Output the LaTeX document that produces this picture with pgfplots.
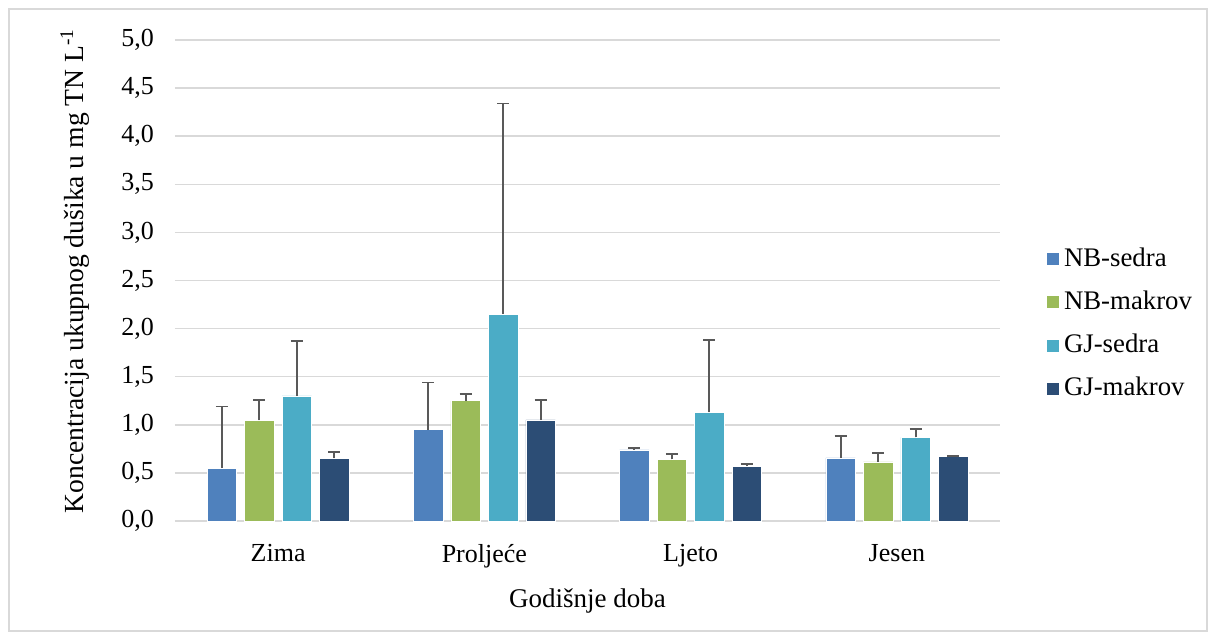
\documentclass[border=0pt]{standalone}
\usepackage{fontspec}
\setmainfont{Liberation Serif}
\usepackage{pgfplots}
\pgfplotsset{compat=1.18}
\definecolor{cNBs}{HTML}{4F81BD}
\definecolor{cNBm}{HTML}{9BBB59}
\definecolor{cGJs}{HTML}{4BACC6}
\definecolor{cGJm}{HTML}{2C4D75}
\definecolor{gridc}{HTML}{D9D9D9}
\definecolor{errc}{HTML}{595959}
\begin{document}
\fontsize{13}{15.6}\selectfont
\begin{tikzpicture}
\begin{axis}[
  scale only axis,
  width=412.5pt, height=240.5pt,
  xmin=-0.5, xmax=3.5, ymin=0, ymax=5,
  ytick distance=0.5,
  xtick={0,1,2,3},
  xticklabels={Zima,Proljeće,Ljeto,Jesen},
  ymajorgrids, grid style={gridc, line width=0.75pt},
  axis lines*=left,
  y axis line style={draw=none},
  x axis line style={gridc, line width=0.75pt},
  tick style={draw=none},
  font=\fontsize{13}{15.6}\selectfont,
  ticklabel style={font=\fontsize{13}{15.6}\selectfont},
  /pgf/number format/.cd, fixed, fixed zerofill, precision=1, use comma, assume math mode=true,
  /pgfplots/.cd,
  yticklabel style={xshift=-6pt},
  xticklabel style={yshift=-3pt},
  ylabel={Koncentracija ukupnog dušika u mg TN L\textsuperscript{-1}},
  ylabel style={at={(axis description cs:-0.1212,0.52)}, anchor=center, font=\fontsize{13.8}{16}\selectfont},
  xlabel={Godišnje doba},
  xlabel style={at={(axis description cs:0.5,0)}, anchor=center, yshift=-40pt, font=\fontsize{13.5}{16}\selectfont},
  ybar, bar width=14.75pt,
  legend style={at={(rel axis cs:1.0485,0.41)}, anchor=west, draw=none, fill=none,
    row sep=6.3pt, font=\fontsize{13.4}{15.6}\selectfont,
    /tikz/every even column/.append style={column sep=2pt}},
  legend cell align=left,
  legend image code/.code={\fill[#1] (0pt,-3.25pt) rectangle (6.5pt,3.25pt);},
  error bars/y dir=plus, error bars/y explicit,
  error bars/error bar style={errc, line width=0.9pt},
  error bars/error mark options={errc, line width=0.9pt, mark size=3pt, rotate=90},
  clip=false,
]
\addplot[fill=cNBs, draw=white, line width=0.3pt, bar shift=-28.125pt] coordinates {
 (0,0.55) +- (0,0.64) (1,0.95) +- (0,0.49) (2,0.74) +- (0,0.02) (3,0.655) +- (0,0.225)};
\addlegendentry{NB-sedra}
\addplot[fill=cNBm, draw=white, line width=0.3pt, bar shift=-9.375pt] coordinates {
 (0,1.045) +- (0,0.215) (1,1.25) +- (0,0.07) (2,0.64) +- (0,0.06) (3,0.615) +- (0,0.095)};
\addlegendentry{NB-makrov}
\addplot[fill=cGJs, draw=white, line width=0.3pt, bar shift=9.375pt] coordinates {
 (0,1.30) +- (0,0.57) (1,2.15) +- (0,2.19) (2,1.13) +- (0,0.755) (3,0.87) +- (0,0.09)};
\addlegendentry{GJ-sedra}
\addplot[fill=cGJm, draw=white, line width=0.3pt, bar shift=28.125pt] coordinates {
 (0,0.65) +- (0,0.07) (1,1.05) +- (0,0.21) (2,0.57) +- (0,0.02) (3,0.67) +- (0,0.005)};
\addlegendentry{GJ-makrov}
\end{axis}
\draw[gridc, line width=0.6pt] (-83pt,256pt) rectangle (516pt,-55pt);
\useasboundingbox (-87.5pt,-55.5pt) rectangle (516.5pt,260.5pt);
\end{tikzpicture}
\end{document}
